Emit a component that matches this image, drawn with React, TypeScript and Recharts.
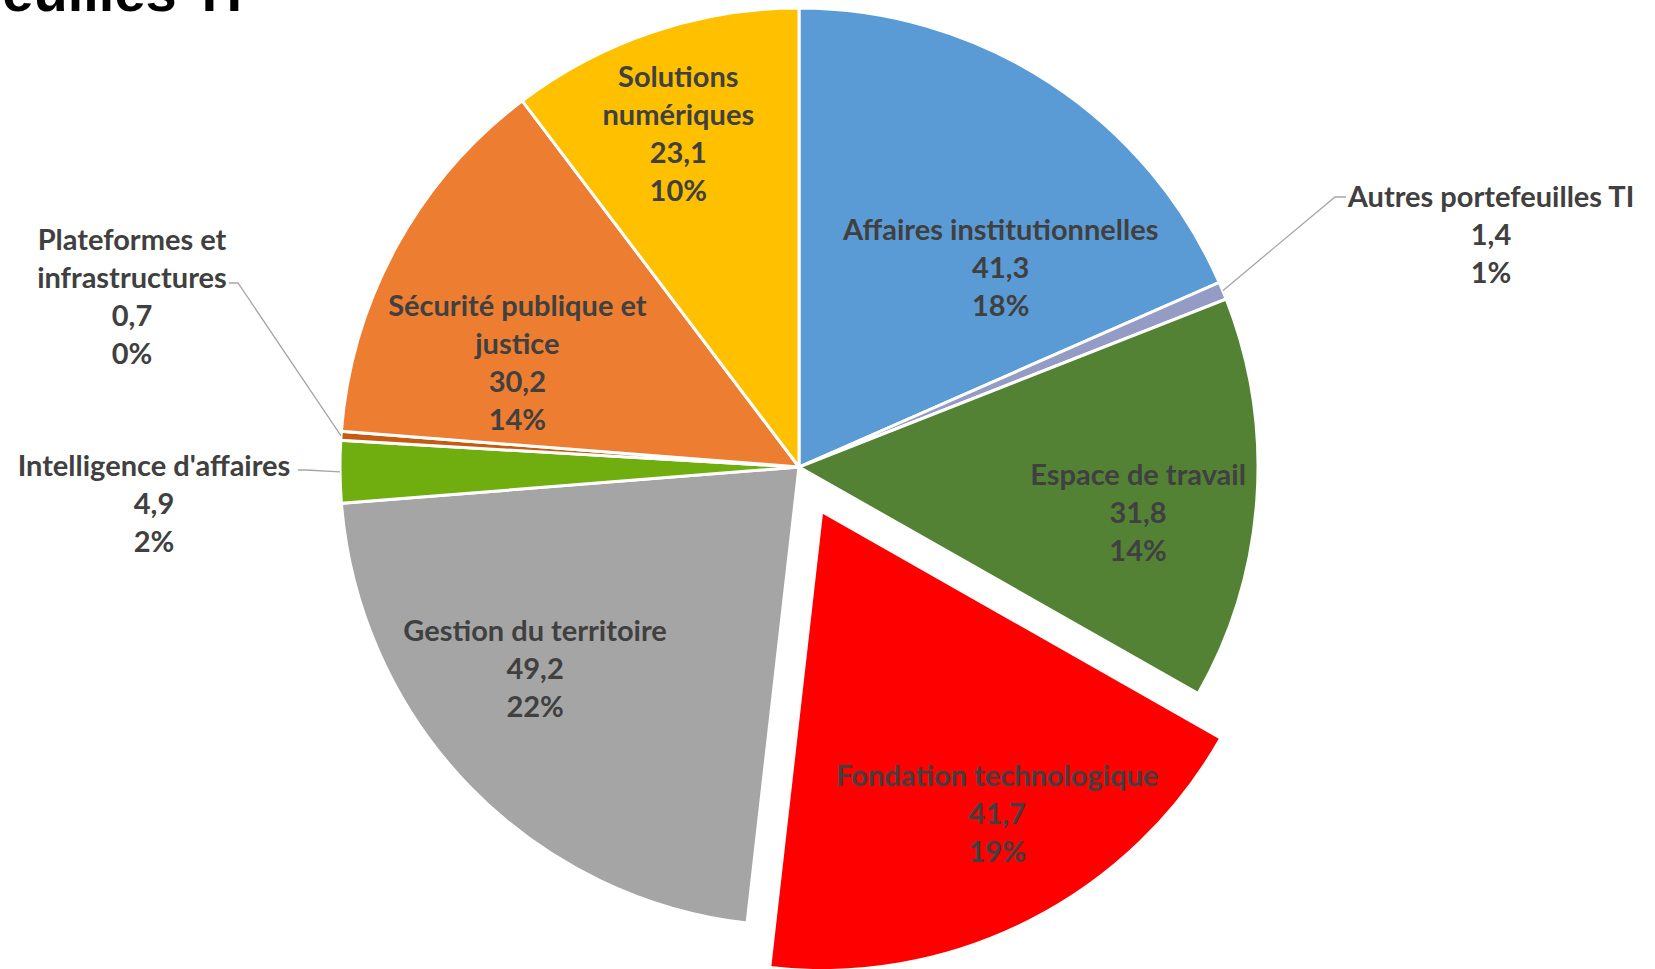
import React from 'react';
import { PieChart, Pie, Cell } from 'recharts';

// Budget par portefeuille (M$)
const categories = [
  'Affaires institutionnelles',
  'Autres portefeuilles TI',
  'Espace de travail',
  'Fondation technologique',
  'Gestion du territoire',
  "Intelligence d'affaires",
  'Plateformes et infrastructures',
  'Sécurité publique et justice',
  'Solutions numériques',
];
const budgets = [41.3, 1.4, 31.8, 41.7, 49.2, 4.9, 0.7, 30.2, 23.1];
const percentLabels = ['18%', '1%', '14%', '19%', '22%', '2%', '0%', '14%', '10%'];
const nameLines = [
  ['Affaires institutionnelles'],
  ['Autres portefeuilles TI'],
  ['Espace de travail'],
  ['Fondation technologique'],
  ['Gestion du territoire'],
  ["Intelligence d'affaires"],
  ['Plateformes et', 'infrastructures'],
  ['Sécurité publique et', 'justice'],
  ['Solutions', 'numériques'],
];

const colors = ['#5B9BD5', '#949CC6', '#548235', '#FF0000', '#A5A5A5', '#70AD0E', '#C55A11', '#ED7D31', '#FFC000'];

const data = categories.map((name, i) => ({ name, value: budgets[i] }));

const EXPLODED = 3;
const CX = 799;
const CY = 467;
const R = 459;
const EXPLODE = 50;
const LINE_H = 38;
const FONT = 'Lato, "Open Sans", sans-serif';
const TEXT_COLOR = '#404040';
const RAD = Math.PI / 180;

// label placement: inside labels along the slice bisector, outside ones with leader lines
const inside: Record<number, { r: number; da: number }> = {
  0: { r: 0.62, da: 12 },
  2: { r: 0.745, da: 3.4 },
  3: { r: 0.759, da: -3.3 },
  4: { r: 0.722, da: 6.8 },
  7: { r: 0.655, da: -8.2 },
  8: { r: 0.775, da: -1.3 },
};
const outside: Record<number, { tx: number; ty: number; ex: number; ey: number; hx: number }> = {
  1: { tx: 692, ty: -272, ex: 536, ey: -270, hx: 547 },
  5: { tx: -645, ty: -3, ex: -493, ey: 3, hx: -501 },
  6: { tx: -667, ty: -229, ex: -561, ey: -184, hx: -570 },
};

const total = budgets.reduce((a, b) => a + b, 0);
const before = budgets.slice(0, EXPLODED).reduce((a, b) => a + b, 0);
const explodedMid = ((before + budgets[EXPLODED] / 2) / total) * 360;
const CX2 = CX + EXPLODE * Math.sin(explodedMid * RAD);
const CY2 = CY - EXPLODE * Math.cos(explodedMid * RAD);

const fmt = (v: number) => v.toFixed(1).replace('.', ',');

const renderLabel = (explodedLayer: boolean) => (props: any) => {
  const { cx, cy, midAngle, outerRadius, index } = props;
  if ((index === EXPLODED) !== explodedLayer) return null;
  const lines = [...nameLines[index], fmt(budgets[index]), percentLabels[index]];
  const textProps = {
    fill: TEXT_COLOR,
    fontFamily: FONT,
    fontWeight: 700,
    fontSize: 29,
    textAnchor: 'middle' as const,
    dominantBaseline: 'central' as const,
  };
  if (inside[index]) {
    const { r, da } = inside[index];
    const a = (midAngle - da) * RAD;
    const x = cx + outerRadius * r * Math.cos(a);
    const y0 = cy - outerRadius * r * Math.sin(a) - ((lines.length - 1) / 2) * LINE_H;
    return (
      <g>
        {lines.map((t, k) => (
          <text key={k} x={x} y={y0 + k * LINE_H} {...textProps}>
            {t}
          </text>
        ))}
      </g>
    );
  }
  const o = outside[index];
  const sx = cx + outerRadius * Math.cos(midAngle * RAD);
  const sy = cy - outerRadius * Math.sin(midAngle * RAD);
  return (
    <g>
      <polyline
        points={`${sx},${sy} ${cx + o.ex},${cy + o.ey} ${cx + o.hx},${cy + o.ey}`}
        fill='none'
        stroke='#A6A6A6'
        strokeWidth={1.3}
      />
      {lines.map((t, k) => (
        <text key={k} x={cx + o.tx} y={cy + o.ty + k * LINE_H} {...textProps}>
          {t}
        </text>
      ))}
    </g>
  );
};

export default function App() {
  return (
    <div style={{ position: 'absolute', left: 0, top: 0, width: 1655, height: 969, background: '#fff' }}>
      <PieChart width={1655} height={969} margin={{ top: 0, right: 0, bottom: 0, left: 0 }}>
        <Pie
          data={data}
          dataKey='value'
          nameKey='name'
          cx={CX}
          cy={CY}
          innerRadius={0}
          outerRadius={R}
          startAngle={90}
          endAngle={-270}
          stroke='#fff'
          strokeWidth={3}
          labelLine={false}
          label={renderLabel(false)}
          isAnimationActive={false}
        >
          {data.map((d, i) => (
            <Cell
              key={d.name}
              fill={i === EXPLODED ? 'none' : colors[i]}
              stroke={i === EXPLODED ? 'none' : '#fff'}
            />
          ))}
        </Pie>
        <Pie
          data={data}
          dataKey='value'
          nameKey='name'
          cx={CX2}
          cy={CY2}
          innerRadius={0}
          outerRadius={R}
          startAngle={90}
          endAngle={-270}
          stroke='#fff'
          strokeWidth={3}
          labelLine={false}
          label={renderLabel(true)}
          isAnimationActive={false}
        >
          {data.map((d, i) => (
            <Cell
              key={d.name}
              fill={i === EXPLODED ? colors[i] : 'none'}
              stroke={i === EXPLODED ? '#fff' : 'none'}
            />
          ))}
        </Pie>
      </PieChart>
      <svg
        width={1655}
        height={969}
        style={{ position: 'absolute', left: 0, top: 0, pointerEvents: 'none' }}
      >
        <text
          x={242}
          y={11}
          textAnchor='end'
          fontFamily='"Liberation Sans", Arial, sans-serif'
          fontWeight={700}
          fontSize={56}
          fill='#000'
        >
          Portefeuilles TI
        </text>
      </svg>
    </div>
  );
}
